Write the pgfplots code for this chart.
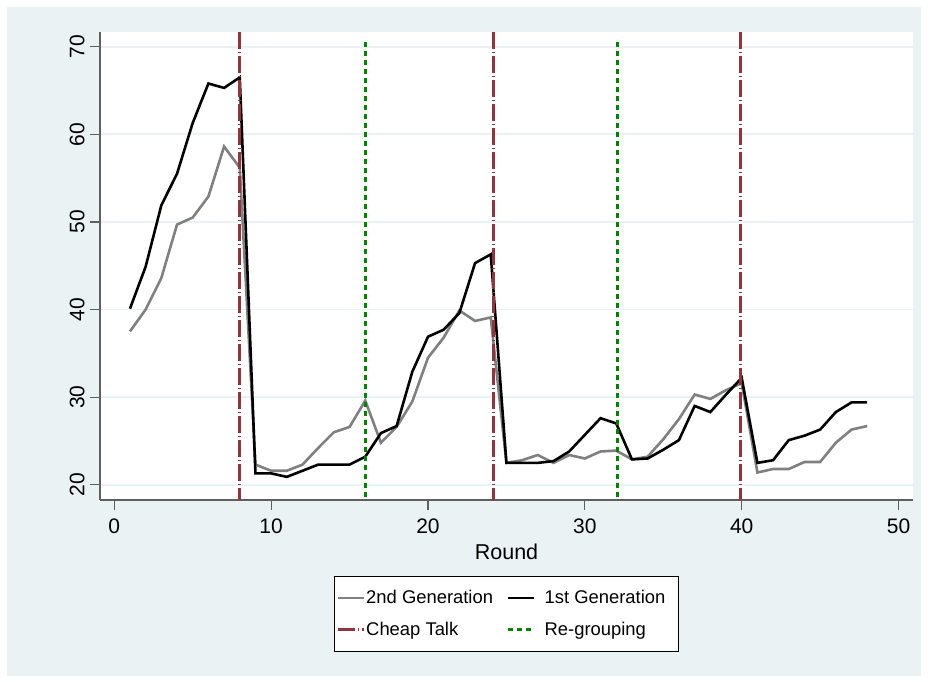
\documentclass[border=0pt]{standalone}
\usepackage{pgfplots}
\pgfplotsset{compat=1.18}
\usepackage{fontspec}
\setmainfont{Liberation Sans}
\definecolor{bgc}{RGB}{234,242,243}
\definecolor{cranb}{RGB}{144,53,59}
\definecolor{sgreen}{RGB}{0,128,0}
\definecolor{axc}{RGB}{95,95,95}
\definecolor{sgray}{RGB}{128,128,128}

\pgfplotstableread{
r v
1 37.5
2 40.0
3 43.6
4 49.7
5 50.5
6 52.9
7 58.6
8 56.2
9 22.3
10 21.6
11 21.6
12 22.3
13 24.2
14 26.0
15 26.6
16 29.6
17 24.8
18 26.6
19 29.5
20 34.5
21 36.8
22 39.9
23 38.7
24 39.1
25 22.5
26 22.8
27 23.4
28 22.5
29 23.4
30 23.0
31 23.8
32 23.9
33 22.9
34 23.2
35 25.2
36 27.5
37 30.3
38 29.8
39 30.8
40 31.6
41 21.4
42 21.8
43 21.8
44 22.6
45 22.6
46 24.8
47 26.3
48 26.7
}\gentwo

\pgfplotstableread{
r v
1 40.1
2 44.9
3 51.9
4 55.5
5 61.3
6 65.8
7 65.3
8 66.5
9 21.3
10 21.3
11 20.9
12 21.6
13 22.3
14 22.3
15 22.3
16 23.2
17 25.9
18 26.7
19 32.9
20 36.9
21 37.7
22 39.6
23 45.3
24 46.3
25 22.5
26 22.5
27 22.5
28 22.7
29 23.8
30 25.7
31 27.6
32 27.0
33 22.9
34 23.0
35 24.0
36 25.1
37 29.0
38 28.3
39 30.3
40 32.2
41 22.5
42 22.8
43 25.1
44 25.6
45 26.3
46 28.3
47 29.4
48 29.4
}\genone

\begin{document}
\begin{tikzpicture}
\fill[white] (0pt,0pt) rectangle (931pt,-681pt);
\fill[bgc] (7pt,-7pt) rectangle (921pt,-676pt);
\begin{axis}[
  at={(100pt,-32pt)}, anchor=north west,
  scale only axis, width=813pt, height=468pt,
  xmin=-0.91, xmax=50.92, ymin=18.26, ymax=71.68,
  axis x line*=bottom, axis y line*=left,
  axis line style={axc, line width=1.4pt},
  axis background/.style={fill=white},
  ymajorgrids, grid style={bgc, line width=1.8pt},
  xtick={0,10,...,50}, ytick={20,30,...,70},
  tick align=outside, major tick length=10pt,
  tick style={axc, line width=1.2pt},
  /pgf/number format/assume math mode=true,
  ticklabel style={font=\fontsize{21}{25}\selectfont},
  yticklabel={\rotatebox{90}{\pgfmathprintnumber{\tick}}},
  yticklabel style={anchor=east, xshift=-2pt},
  xticklabel style={yshift=-5pt},
  xlabel={Round},
  xlabel style={font=\fontsize{21.5}{25}\selectfont, yshift=-4pt},
  legend columns=2,
  legend cell align=left,
  legend style={at={(0.5,0)}, anchor=north, yshift=-75.5pt, draw=black, line width=0.8pt, fill=white,
     font=\fontsize{18.4}{22}\selectfont, row sep=13pt, inner xsep=2pt, inner ysep=12.5pt,
     nodes={inner xsep=1pt},
     /tikz/every even column/.append style={column sep=13pt},
     /tikz/column 3/.style={column sep=8pt}},
  legend image code/.code={\draw[#1, line width=2.6pt] (0pt,0pt) -- (26pt,0pt);},
]
\addplot[sgray, line width=2.6pt] table[x=r,y=v] {\gentwo};
\addlegendentry{2nd Generation}
\addplot[black, line width=2.6pt] table[x=r,y=v] {\genone};
\addlegendentry{1st Generation\hspace*{10pt}\null}
\addplot[cranb, line width=3pt, dash pattern=on 17pt off 3pt on 1pt off 3pt] coordinates {(8,71.68) (8,18.26)};
\addlegendentry{Cheap Talk}
\addplot[sgreen, line width=3pt, dash pattern=on 5pt off 4pt] coordinates {(16,70.5) (16,18.26)};
\addlegendentry{Re-grouping}
\addplot[cranb, line width=3pt, dash pattern=on 17pt off 3pt on 1pt off 3pt, forget plot] coordinates {(24.15,71.68) (24.15,18.26)};
\addplot[sgreen, line width=3pt, dash pattern=on 5pt off 4pt, forget plot] coordinates {(32.05,70.5) (32.05,18.26)};
\addplot[cranb, line width=3pt, dash pattern=on 17pt off 3pt on 1pt off 3pt, forget plot] coordinates {(39.9,71.68) (39.9,18.26)};
\end{axis}
\end{tikzpicture}
\end{document}
